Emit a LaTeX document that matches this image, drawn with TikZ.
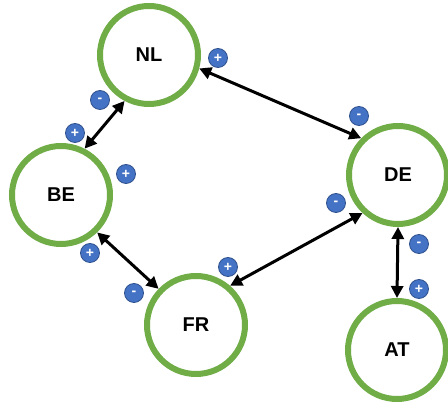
\documentclass[tikz,border=0pt]{standalone}
\usepackage{fontspec}
\setsansfont{Liberation Sans}
\definecolor{ringgreen}{RGB}{112,173,71}
\definecolor{badgeblue}{RGB}{68,114,196}
\definecolor{badgeline}{RGB}{47,82,143}
\usetikzlibrary{arrows.meta,positioning}

\tikzset{
  country/.style={circle, draw=ringgreen, line width=6pt, fill=white,
    minimum size=98pt, inner sep=0pt, font=\sffamily\bfseries\fontsize{20}{22}\selectfont},
  flow/.style={{Triangle[length=12pt,width=12pt]}-{Triangle[length=12pt,width=12pt]},
    line width=3pt, black},
  badge/.style={circle, fill=badgeblue, draw=badgeline, line width=0.8pt,
    minimum size=19pt, inner sep=0pt, text=white,
    font=\sffamily\bfseries\fontsize{14}{14}\selectfont}
}

\begin{document}
\begin{tikzpicture}[x=1pt, y=-1pt]
  \useasboundingbox (0,0) rectangle (448,403);

  % countries
  \node[country] (nl) at (149,55) {NL};
  \node[country] (be) at (61,195) {BE};
  \node[country] (de) at (398,175) {DE};
  \node[country] (fr) at (196,325) {FR};
  \node[country] (at) at (397,350) {AT};

  % exchanges
  \draw[flow] (nl.242) -- (be.63);
  \draw[flow] (nl.-15) -- (de.135);
  \draw[flow] (be.-46) -- (fr.136);
  \draw[flow] (fr.49) -- (de.-133);
  \draw[flow] (de.-90) -- (at.90);

  % signs
  \node[badge] (nlp) at (218,58) {+};
  \node[badge] (nlm) at (100,100) {-};
  \node[badge] (bep1) at (75,133) {+};
  \node[badge] (bep2) at (126,174) {+};
  \node[badge] (bep3) at (90,253) {+};
  \node[badge] (frm) at (134,293) {-};
  \node[badge] (frp) at (228,267) {+};
  \node[badge] (dem1) at (359,116) {-};
  \node[badge] (dem2) at (336,203) {-};
  \node[badge] (dem3) at (419,244) {-};
  \node[badge] (atp) at (419,289) {+};
\end{tikzpicture}
\end{document}
